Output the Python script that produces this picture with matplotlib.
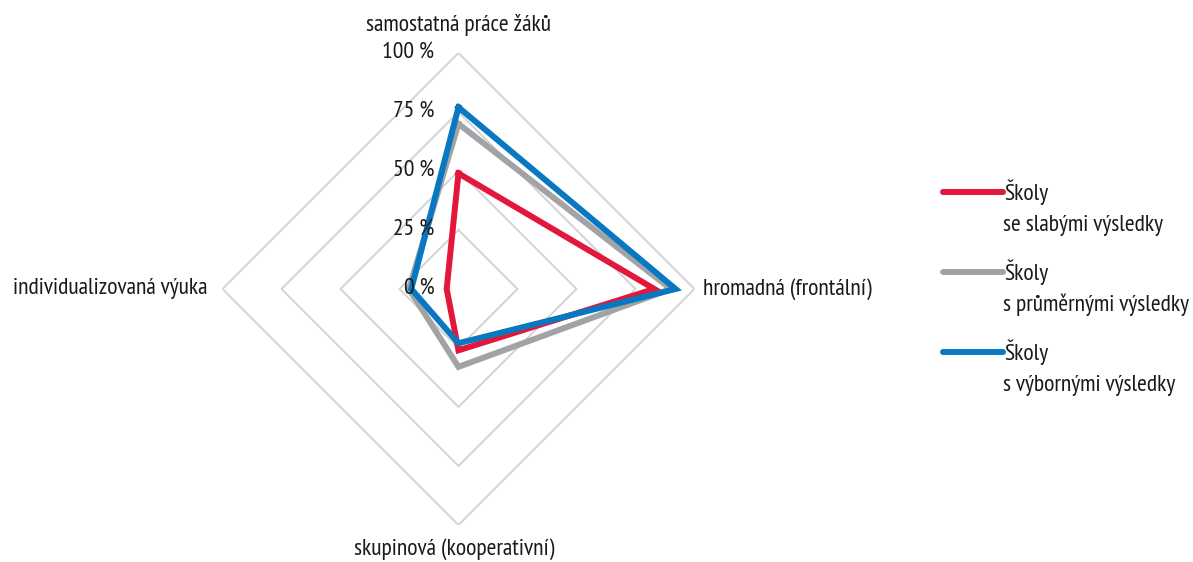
"""Radar chart: forms of teaching by school result group."""

import matplotlib
matplotlib.use("Agg")
import matplotlib.pyplot as plt
import numpy as np
from matplotlib.lines import Line2D
from matplotlib.transforms import offset_copy

plt.rcParams["font.family"] = ["PT Sans Narrow", "Roboto Condensed", "Fira Sans Condensed",
                               "Asap Condensed", "Archivo Narrow", "DejaVu Sans"]

categories = [
    "samostatná práce žáků",
    "hromadná (frontální)",
    "skupinová (kooperativní)",
    "individualizovaná výuka",
]
weak = [49, 83, 26, 5]
average = [70, 90, 33, 21]
excellent = [77, 92, 23, 20]

series_names = [
    "Školy\nse slabými výsledky",
    "Školy\ns průměrnými výsledky",
    "Školy\ns výbornými výsledky",
]
series_colors = ["#E3173A", "#A2A3A7", "#0878C0"]
grid_levels = [25, 50, 75, 100]
tick_labels = ["0 %", "25 %", "50 %", "75 %", "100 %"]

fig = plt.figure(figsize=(11.93, 5.62), dpi=100)
ax = fig.add_axes([0.1865, 0.0658, 0.3956, 0.840], projection="polar")
ax.set_theta_zero_location("N")
ax.set_theta_direction(-1)
ax.set_ylim(0, 100)
ax.grid(False)
ax.set_xticks([])
ax.set_yticks([])
ax.spines["polar"].set_visible(False)

theta = np.arange(len(categories)) * 2 * np.pi / len(categories)
theta_closed = np.append(theta, theta[0])

# diamond grid, no spokes
for lvl in grid_levels:
    ax.plot(theta_closed, [lvl] * len(theta_closed), color="#D3D3D3", lw=1.4, zorder=1)

for vals, col in zip([weak, average, excellent], series_colors):
    ax.plot(theta_closed, vals + vals[:1], color=col, lw=4.3,
            solid_joinstyle="miter", zorder=3)

fs = 17
ink = "#1a1a1a"

# radial tick labels left of the top axis
lab_tr = offset_copy(ax.transData, fig=fig, x=-24, y=0, units="dots")
for lvl, lab in zip([0] + grid_levels, tick_labels):
    ax.text(0, lvl, lab, transform=lab_tr, ha="right", va="center",
            fontsize=fs, color=ink, zorder=4)

# category labels
ax.text(0, 100, categories[0], transform=offset_copy(ax.transData, fig=fig, y=28, units="dots"),
        ha="center", va="center", fontsize=fs, color=ink)
ax.text(np.pi / 2, 100, categories[1], transform=offset_copy(ax.transData, fig=fig, x=9, units="dots"),
        ha="left", va="center", fontsize=fs, color=ink)
ax.text(np.pi, 100, categories[2], transform=offset_copy(ax.transData, fig=fig, x=-4, y=-24, units="dots"),
        ha="center", va="center", fontsize=fs, color=ink)
ax.text(3 * np.pi / 2, 100, categories[3], transform=offset_copy(ax.transData, fig=fig, x=-15, units="dots"),
        ha="right", va="center", fontsize=fs, color=ink)

# legend, drawn by hand so the swatch sits on the first line of the label
W, H = 1193, 562
for i, (name, col) in enumerate(zip(series_names, series_colors)):
    y_px = 192 + i * 80
    yf = 1 - y_px / H
    fig.add_artist(Line2D([943 / W, 1003 / W], [yf, yf], color=col, lw=4.3,
                          solid_capstyle="round"))
    first, second = name.split("\n")
    fig.text(1004 / W, yf, first, ha="left", va="center", fontsize=fs, color=ink)
    fig.text(1003 / W, 1 - (y_px + 33) / H, second, ha="left", va="center",
             fontsize=fs, color=ink)

fig.savefig("out.png", dpi=100)
